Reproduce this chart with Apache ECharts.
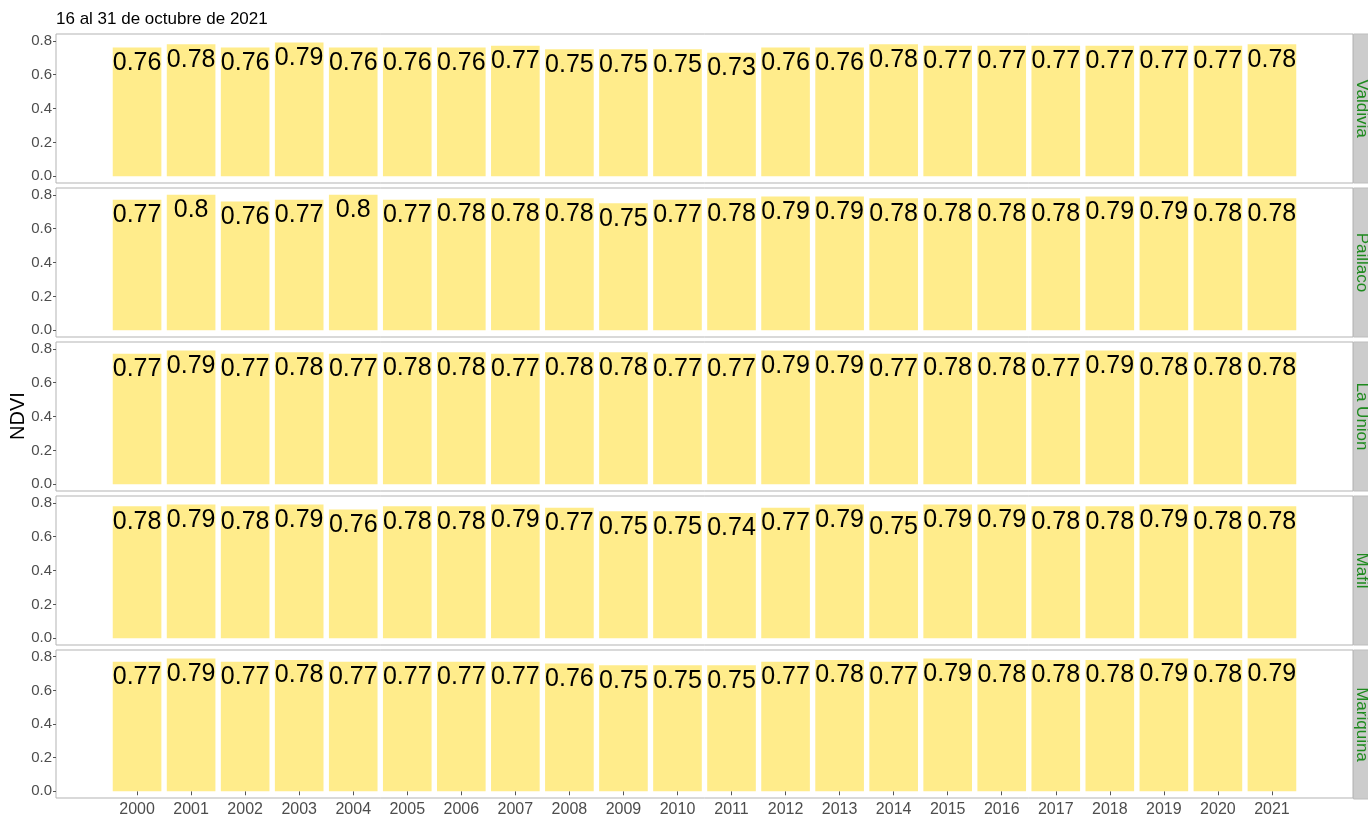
<!DOCTYPE html>
<html>
<head>
<meta charset="utf-8">
<script src="https://cdn.jsdelivr.net/npm/echarts@6/dist/echarts.min.js"></script>
<style>html,body{margin:0;padding:0;background:#fff}#c{width:1368px;height:818px}</style>
</head>
<body>
<div id="c"></div>
<script>
const titleText = '16 al 31 de octubre de 2021';
const yName = 'NDVI';
const years = ['2000','2001','2002','2003','2004','2005','2006','2007','2008','2009','2010','2011','2012','2013','2014','2015','2016','2017','2018','2019','2020','2021'];
const panels = ['Valdivia','Paillaco','La Union','Mafil','Mariquina'];
const valdivia  = [0.76,0.78,0.76,0.79,0.76,0.76,0.76,0.77,0.75,0.75,0.75,0.73,0.76,0.76,0.78,0.77,0.77,0.77,0.77,0.77,0.77,0.78];
const paillaco  = [0.77,0.80,0.76,0.77,0.80,0.77,0.78,0.78,0.78,0.75,0.77,0.78,0.79,0.79,0.78,0.78,0.78,0.78,0.79,0.79,0.78,0.78];
const launion   = [0.77,0.79,0.77,0.78,0.77,0.78,0.78,0.77,0.78,0.78,0.77,0.77,0.79,0.79,0.77,0.78,0.78,0.77,0.79,0.78,0.78,0.78];
const mafil     = [0.78,0.79,0.78,0.79,0.76,0.78,0.78,0.79,0.77,0.75,0.75,0.74,0.77,0.79,0.75,0.79,0.79,0.78,0.78,0.79,0.78,0.78];
const mariquina = [0.77,0.79,0.77,0.78,0.77,0.77,0.77,0.77,0.76,0.75,0.75,0.75,0.77,0.78,0.77,0.79,0.78,0.78,0.78,0.79,0.78,0.79];
const yTicks = [0, 0.2, 0.4, 0.6, 0.8];

const seriesValues = [valdivia, paillaco, launion, mafil, mariquina];
const FONT = '"Liberation Sans", Arial, sans-serif';
// blank slots at both ends give the extra room left/right of the bars
const cats = [' '].concat(years, ['  ']);

const chart = echarts.init(document.getElementById('c'));
const gridTop0 = 34, gridH = 149, gridGap = 5, gridLeft = 56, gridRight = 15;
const grids = [], xAxes = [], yAxes = [], series = [], graphics = [];

panels.forEach((name, i) => {
  const top = gridTop0 + i * (gridH + gridGap);
  const last = i === panels.length - 1;
  grids.push({left: gridLeft, right: gridRight, top: top, height: gridH, show: true,
    borderColor: '#B3B3B3', borderWidth: 1, backgroundColor: '#fff'});
  xAxes.push({type: 'category', gridIndex: i, data: cats, boundaryGap: true,
    axisLine: {show: false},
    axisTick: {show: last, length: 4, alignWithLabel: true, lineStyle: {color: '#555'},
      interval: (idx, v) => v.trim() !== ''},
    axisLabel: {show: last, interval: 0, fontSize: 16, color: '#4D4D4D', margin: 4, fontFamily: FONT},
    splitLine: {show: false}});
  yAxes.push({type: 'value', gridIndex: i, min: -0.04, max: 0.84,
    axisLine: {show: false},
    axisTick: {show: true, length: 3, customValues: yTicks, lineStyle: {color: '#555'}},
    axisLabel: {customValues: yTicks, fontSize: 15, color: '#4D4D4D', margin: 4, fontFamily: FONT,
      formatter: v => v.toFixed(1)},
    splitLine: {show: false}});
  series.push({type: 'bar', xAxisIndex: i, yAxisIndex: i,
    data: ['-'].concat(seriesValues[i], ['-']),
    barCategoryGap: '10%',
    itemStyle: {color: '#FFEC8B'},
    label: {show: true, position: 'insideTop', distance: 3, fontSize: 25, color: '#000', fontFamily: FONT,
      formatter: p => String(Math.round(p.value * 100) / 100)}});
  graphics.push({type: 'rect', shape: {x: 1353.5, y: top, width: 40, height: gridH},
    style: {fill: '#CCCCCC', stroke: '#BDBDBD', lineWidth: 1}, z: 10});
  graphics.push({type: 'text', x: 1362, y: top + gridH / 2, rotation: -Math.PI / 2, z: 11,
    style: {text: name, fontSize: 17, fill: '#1E8A1E', fontFamily: FONT, align: 'center', verticalAlign: 'middle'}});
});

graphics.push({type: 'text', x: 18, y: 416, rotation: Math.PI / 2, z: 11,
  style: {text: yName, fontSize: 20, fill: '#000', fontFamily: FONT, align: 'center', verticalAlign: 'middle'}});

chart.setOption({
  animation: false,
  backgroundColor: '#fff',
  title: {text: titleText, left: 56, top: 11, padding: 0,
    textStyle: {fontSize: 17, fontWeight: 'normal', color: '#000', fontFamily: FONT}},
  grid: grids, xAxis: xAxes, yAxis: yAxes, series: series, graphic: graphics
});
</script>
</body>
</html>
